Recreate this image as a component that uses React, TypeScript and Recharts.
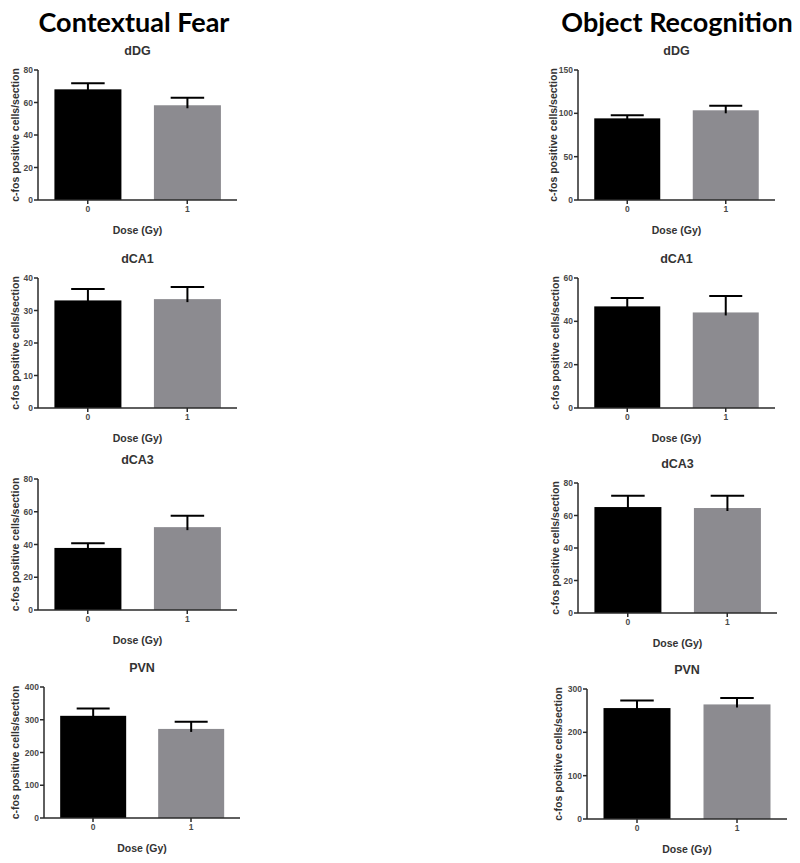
import { BarChart, Bar, XAxis, YAxis } from 'recharts'

const DOSES = ['0', '1']

// group means and SEM (upper whisker)
const FEAR_DDG = [68.1, 58.3]
const FEAR_DDG_SEM = [3.7, 4.7]
const FEAR_DCA1 = [33.1, 33.5]
const FEAR_DCA1_SEM = [3.5, 3.7]
const FEAR_DCA3 = [37.9, 50.6]
const FEAR_DCA3_SEM = [2.9, 6.9]
const FEAR_PVN = [312, 272]
const FEAR_PVN_SEM = [22, 22]

const OBJ_DDG = [94.2, 103.5]
const OBJ_DDG_SEM = [3.5, 5.3]
const OBJ_DCA1 = [46.9, 44.1]
const OBJ_DCA1_SEM = [3.9, 7.6]
const OBJ_DCA3 = [65.2, 64.6]
const OBJ_DCA3_SEM = [7.0, 7.6]
const OBJ_PVN = [256, 264.4]
const OBJ_PVN_SEM = [17.6, 14.8]

const TICKS_80 = [0, 20, 40, 60, 80]
const TICKS_150 = [0, 50, 100, 150]
const TICKS_40 = [0, 10, 20, 30, 40]
const TICKS_60 = [0, 20, 40, 60]
const TICKS_400 = [0, 100, 200, 300, 400]
const TICKS_300 = [0, 100, 200, 300]

const BAR_COLORS = ['#000000', '#8c8b90']
const AXIS_COLOR = '#2a2a2a'
const TEXT_COLOR = '#333333'
const TICK_COLOR = '#4a4a4a'
const FONT = 'Liberation Sans, Arial, sans-serif'

const Y_AXIS_W = 45
const M_TOP = 8
const M_RIGHT = 5
const X_AXIS_H = 40

function BarWithSem(props: any) {
  const { x, y, width, height, payload, index } = props
  const perUnit = payload.mean ? height / payload.mean : 0
  const top = y - payload.sem * perUnit
  const cx = x + width / 2
  const cap = width / 2
  return (
    <g>
      <rect x={x} y={y} width={width} height={height} fill={BAR_COLORS[index % 2]} />
      <line x1={cx} x2={cx} y1={y + 3} y2={top} stroke="#000" strokeWidth={2} />
      <line x1={cx - cap / 2} x2={cx + cap / 2} y1={top} y2={top} stroke="#000" strokeWidth={2} />
    </g>
  )
}

interface PanelProps {
  title: string
  means: number[]
  sems: number[]
  ticks: number[]
  left: number
  right: number
  top: number
  bottom: number
  labelGap?: number
}

function Panel({ title, means, sems, ticks, left, right, top, bottom, labelGap = 23 }: PanelProps) {
  const data = DOSES.map((dose, i) => ({ dose, mean: means[i], sem: sems[i] }))
  const chartLeft = left - Y_AXIS_W
  const width = right + M_RIGHT - chartLeft
  const height = M_TOP + (bottom - top) + X_AXIS_H
  const plotH = bottom - top
  const labelX = Y_AXIS_W - labelGap
  const labelY = M_TOP + plotH / 2
  return (
    <>
      <div
        style={{
          position: 'absolute',
          left,
          width: right - left,
          top: top - 26,
          height: 14,
          lineHeight: '14px',
          textAlign: 'center',
          fontFamily: FONT,
          fontWeight: 'bold',
          fontSize: 12.5,
          color: TEXT_COLOR,
        }}
      >
        {title}
      </div>
      <div style={{ position: 'absolute', left: chartLeft, top: top - M_TOP }}>
        <BarChart
          width={width}
          height={height}
          data={data}
          margin={{ top: M_TOP, right: M_RIGHT, bottom: 0, left: 0 }}
          barCategoryGap="16.5%"
        >
          <XAxis
            dataKey="dose"
            height={X_AXIS_H}
            stroke={AXIS_COLOR}
            strokeWidth={1.5}
            tickSize={4}
            tickMargin={2}
            tick={{ fill: TICK_COLOR, fontSize: 8.5, fontWeight: 'bold', fontFamily: FONT }}
            label={{
              value: 'Dose (Gy)',
              position: 'insideBottom',
              offset: 6,
              fill: TEXT_COLOR,
              fontSize: 10.5,
              fontWeight: 'bold',
              fontFamily: FONT,
            }}
          />
          <YAxis
            width={Y_AXIS_W}
            domain={[0, ticks[ticks.length - 1]]}
            ticks={ticks}
            interval={0}
            stroke={AXIS_COLOR}
            strokeWidth={1.5}
            tickSize={4}
            tickMargin={1}
            tick={{ fill: TICK_COLOR, fontSize: 8.5, fontWeight: 'bold', fontFamily: FONT }}
            label={{
              content: () => (
                <text
                  x={labelX}
                  y={labelY}
                  transform={`rotate(-90, ${labelX}, ${labelY})`}
                  textAnchor="middle"
                  dominantBaseline="central"
                  fill={TEXT_COLOR}
                  fontSize={10.5}
                  fontWeight="bold"
                  fontFamily={FONT}
                >
                  c-fos positive cells/section
                </text>
              ),
            }}
          />
          <Bar dataKey="mean" shape={BarWithSem} isAnimationActive={false} />
        </BarChart>
      </div>
    </>
  )
}

const headStyle = {
  position: 'absolute' as const,
  top: 4,
  height: 36,
  lineHeight: '36px',
  textAlign: 'center' as const,
  fontFamily: 'Lato, "Open Sans", sans-serif',
  fontWeight: 'bold' as const,
  fontSize: 27,
  color: '#000',
  whiteSpace: 'nowrap' as const,
}

export default function App() {
  return (
    <div style={{ position: 'absolute', left: 0, top: 0, width: 800, height: 863, background: '#fff' }}>
      <div style={{ ...headStyle, left: 24, width: 220 }}>Contextual Fear</div>
      <div style={{ ...headStyle, left: 547, width: 260 }}>Object Recognition</div>

      <Panel title="dDG" means={FEAR_DDG} sems={FEAR_DDG_SEM} ticks={TICKS_80} left={38} right={237} top={70} bottom={200} />
      <Panel title="dCA1" means={FEAR_DCA1} sems={FEAR_DCA1_SEM} ticks={TICKS_40} left={38} right={237} top={278} bottom={408} />
      <Panel title="dCA3" means={FEAR_DCA3} sems={FEAR_DCA3_SEM} ticks={TICKS_80} left={38} right={237} top={479} bottom={610} />
      <Panel title="PVN" means={FEAR_PVN} sems={FEAR_PVN_SEM} ticks={TICKS_400} left={44} right={240} top={687} bottom={818} labelGap={29} />

      <Panel title="dDG" means={OBJ_DDG} sems={OBJ_DDG_SEM} ticks={TICKS_150} left={578} right={775} top={70} bottom={200} labelGap={25} />
      <Panel title="dCA1" means={OBJ_DCA1} sems={OBJ_DCA1_SEM} ticks={TICKS_60} left={578} right={775} top={278} bottom={408} />
      <Panel title="dCA3" means={OBJ_DCA3} sems={OBJ_DCA3_SEM} ticks={TICKS_80} left={578} right={777} top={483} bottom={613} />
      <Panel title="PVN" means={OBJ_PVN} sems={OBJ_PVN_SEM} ticks={TICKS_300} left={587} right={787} top={689} bottom={819} labelGap={29} />
    </div>
  )
}
